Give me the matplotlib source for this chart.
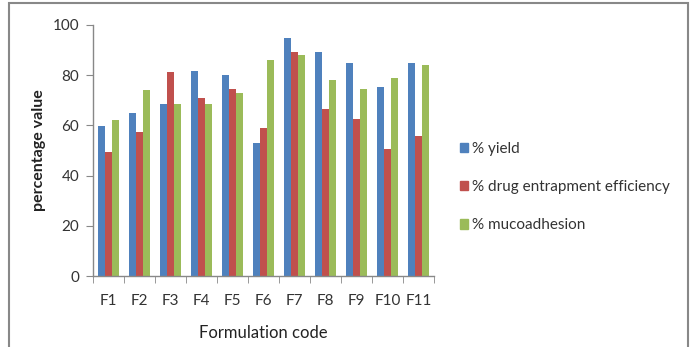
import matplotlib
matplotlib.use("Agg")
import matplotlib.pyplot as plt
import numpy as np
from matplotlib.patches import Rectangle

categories = ["F1", "F2", "F3", "F4", "F5", "F6", "F7", "F8", "F9", "F10", "F11"]
yield_pct = [59.6, 65.1, 68.7, 81.8, 80.0, 53.0, 95.0, 89.1, 84.7, 75.2, 84.7]
entrapment = [49.4, 57.2, 81.3, 71.0, 74.7, 59.1, 89.1, 66.4, 62.5, 50.7, 55.9]
mucoadhesion = [62.0, 74.0, 68.7, 68.7, 72.8, 85.9, 87.9, 78.2, 74.7, 78.8, 84.2]
series_names = ["% yield", "% drug entrapment efficiency", "% mucoadhesion"]
colors = ["#4F81BD", "#C0504D", "#9BBB59"]

plt.rcParams['font.family'] = ['Lato', 'DejaVu Sans']

W, H = 690, 347
fig = plt.figure(figsize=(W/100, H/100), dpi=100)
ax = fig.add_axes([93/W, 1-276/H, (434-93)/W, (276-25)/H])

x = np.arange(len(categories))
w = 0.22
for i, (vals, name, c) in enumerate(zip([yield_pct, entrapment, mucoadhesion], series_names, colors)):
    ax.bar(x + (i-1)*w, vals, width=w, color=c, label=name, zorder=2)

ax.set_xlim(-0.5, len(categories)-0.5)
ax.set_ylim(0, 100)
ax.set_yticks([0, 20, 40, 60, 80, 100])
ax.set_xticks(x)
ax.set_xticklabels(categories)
ax.set_xticks(np.arange(-0.5, len(categories)), minor=True)
ax.tick_params(axis='x', which='major', length=0, pad=13, labelsize=11, labelcolor='#333333')
ax.tick_params(axis='x', which='minor', length=5, color='#888888', direction='out')
ax.tick_params(axis='y', length=5, color='#888888', labelsize=11, labelcolor='#333333', pad=5)
for s in ['top', 'right']:
    ax.spines[s].set_visible(False)
for s in ['left', 'bottom']:
    ax.spines[s].set_color('#888888')
    ax.spines[s].set_linewidth(1.0)

ax.set_ylabel("percentage value", fontsize=11.5, fontweight='bold', color='#222222', labelpad=5)
ax.set_xlabel("Formulation code", fontsize=12, color='#222222', labelpad=12)

handles = [Rectangle((0, 0), 1, 1, color=c) for c in colors]
fig.legend(handles, series_names, loc='center left', bbox_to_anchor=(452/W, 1-187/H),
           frameon=False, fontsize=11, handlelength=0.55, handleheight=0.55,
           handletextpad=0.25, labelspacing=1.6, labelcolor='#333333', borderpad=0)

border = Rectangle((8.5/W, -0.05), (688-8.5)/W, 0.05 + (H-3)/H, transform=fig.transFigure,
                   fill=False, edgecolor='#888888', linewidth=1.5)
fig.add_artist(border)

fig.savefig("out.png", dpi=100)
